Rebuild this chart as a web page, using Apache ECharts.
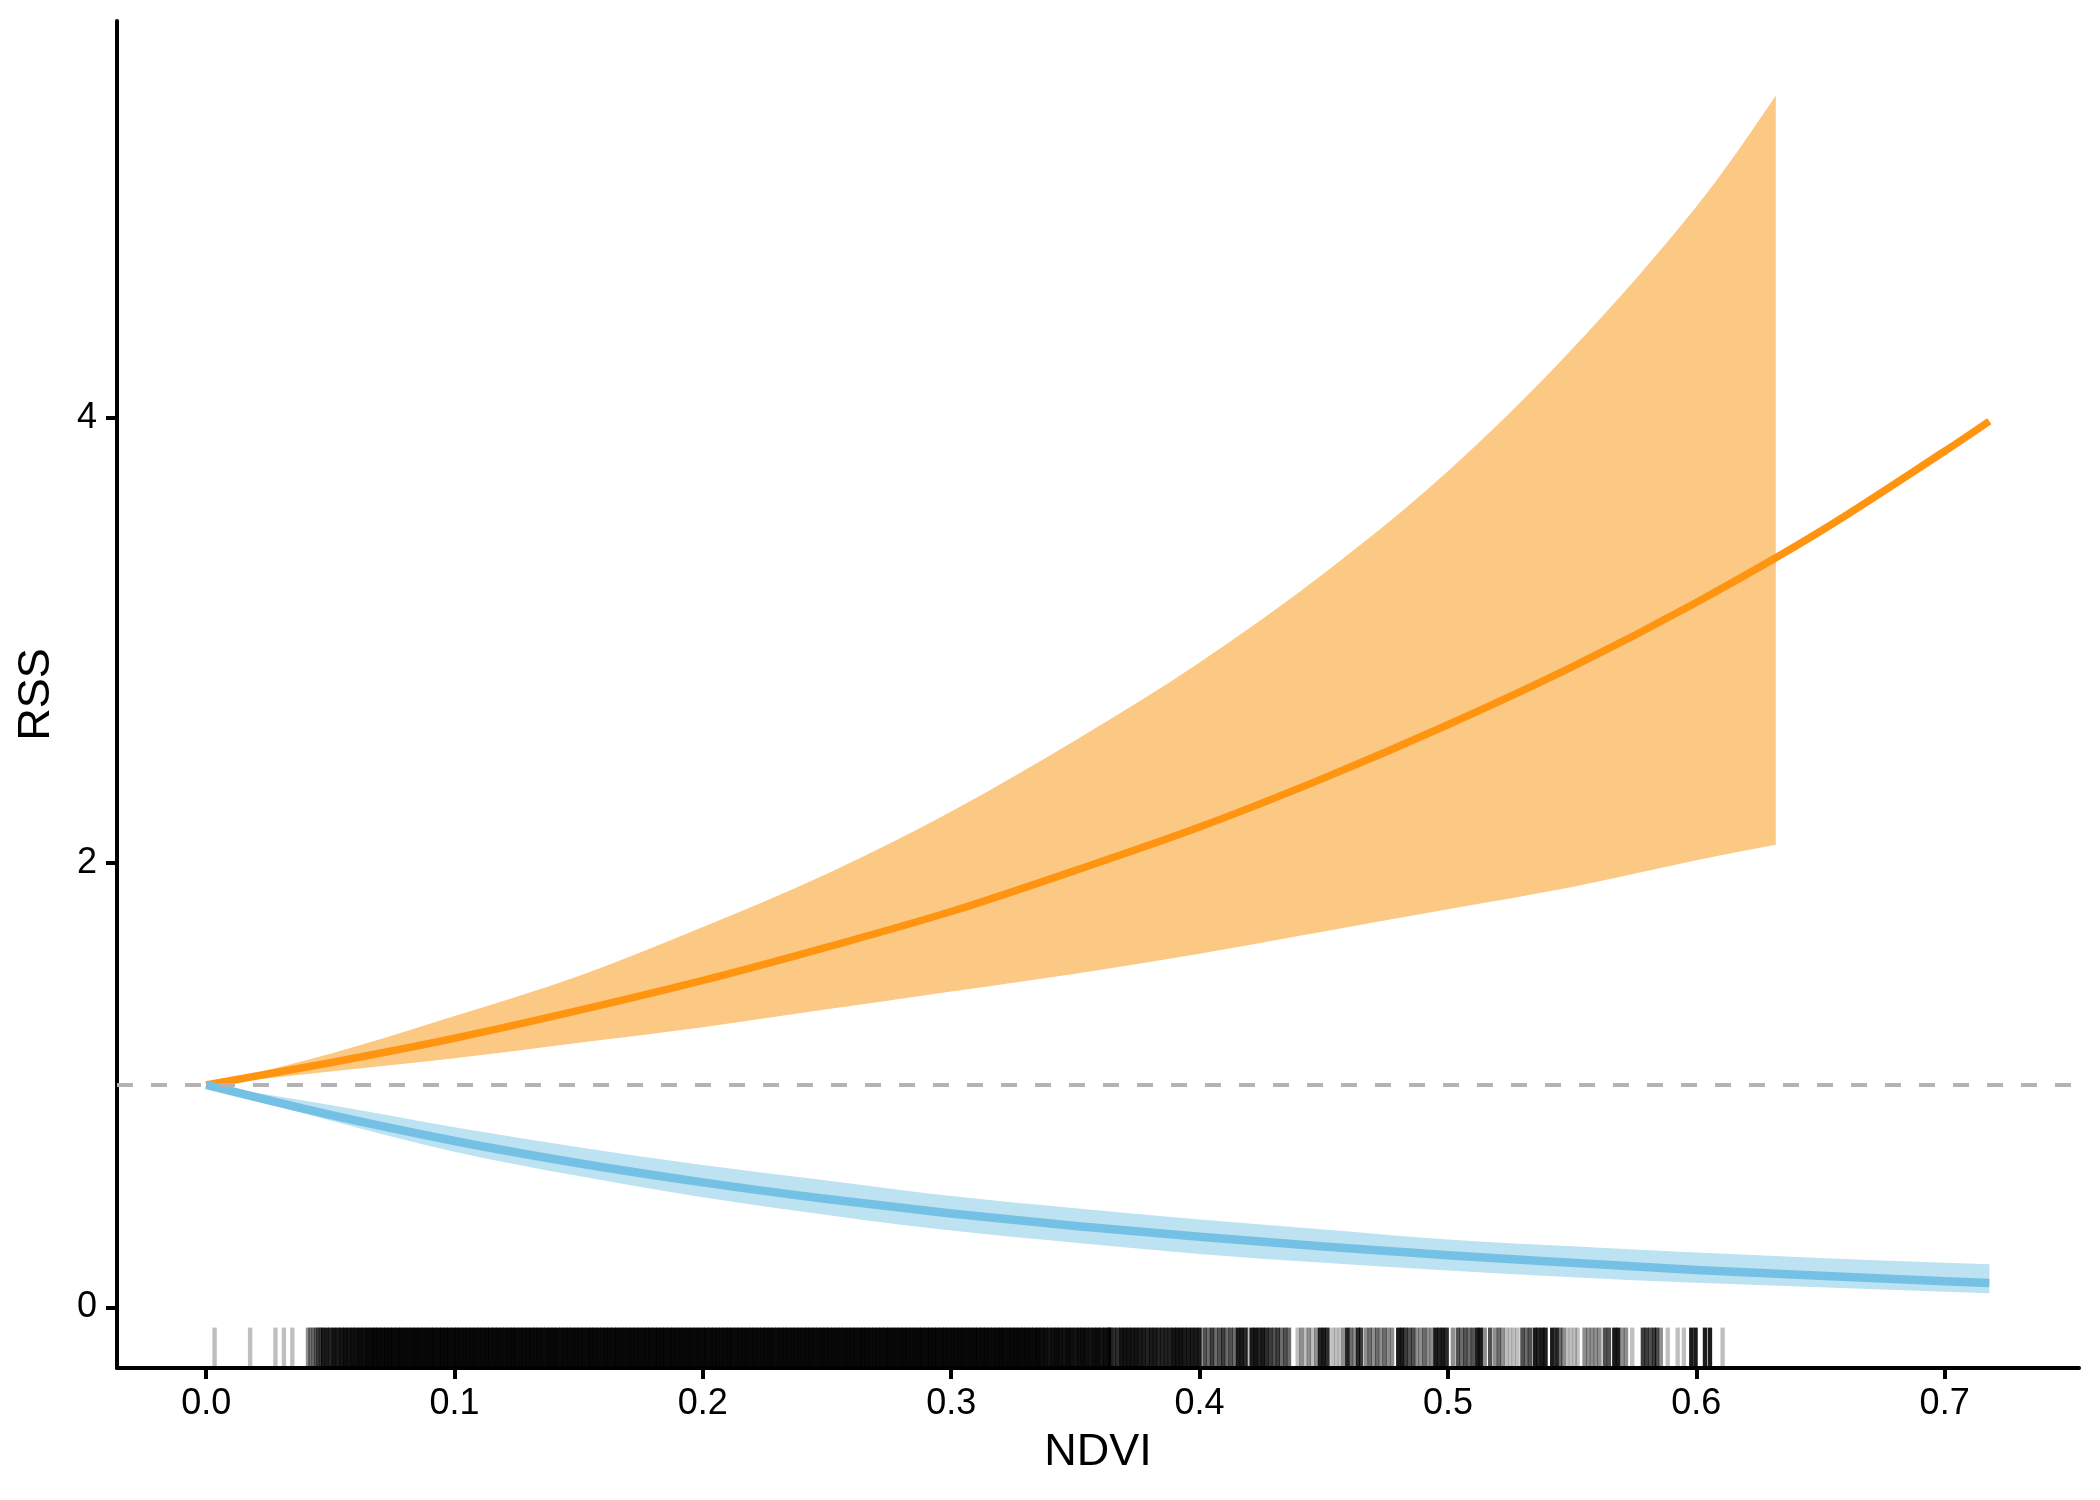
<!DOCTYPE html>
<html>
<head>
<meta charset="utf-8">
<script src="https://cdn.jsdelivr.net/npm/echarts@6/dist/echarts.min.js"></script>
<style>
html, body { margin: 0; padding: 0; background: #fff; }
#chart { width: 2100px; height: 1500px; }
</style>
</head>
<body>
<div id="chart"></div>
<script>
// fitted RSS curves
var ndviGrid  = [0, 0.05, 0.1, 0.15, 0.2, 0.25, 0.3, 0.35, 0.4, 0.45, 0.5, 0.55, 0.6, 0.65, 0.7, 0.718];
var orangeFit = [1.00, 1.10, 1.21, 1.335, 1.47, 1.62, 1.78, 1.965, 2.16, 2.38, 2.62, 2.88, 3.17, 3.49, 3.85, 3.985];
var blueFit   = [1.00, 0.865, 0.748, 0.648, 0.562, 0.487, 0.422, 0.366, 0.317, 0.273, 0.234, 0.200, 0.168, 0.142, 0.117, 0.109];
var blueUpper = [1.00, 0.91, 0.81, 0.72, 0.64, 0.57, 0.50, 0.445, 0.395, 0.35, 0.305, 0.274, 0.246, 0.222, 0.200, 0.194];
var blueLower = [1.00, 0.84, 0.70, 0.59, 0.495, 0.415, 0.345, 0.29, 0.24, 0.20, 0.165, 0.135, 0.110, 0.090, 0.070, 0.063];

// orange confidence band stops earlier
var ndviBand    = [0, 0.05, 0.1, 0.15, 0.2, 0.25, 0.3, 0.35, 0.4, 0.45, 0.5, 0.55, 0.6, 0.632];
var orangeUpper = [1.00, 1.14, 1.31, 1.49, 1.71, 1.95, 2.23, 2.55, 2.90, 3.30, 3.76, 4.31, 4.95, 5.45];
var orangeLower = [1.00, 1.06, 1.12, 1.19, 1.26, 1.34, 1.42, 1.50, 1.59, 1.69, 1.79, 1.89, 2.01, 2.08];

var refLevel = 1;
var xTicks = [0, 0.1, 0.2, 0.3, 0.4, 0.5, 0.6, 0.7];
var yTicks = [0, 2, 4];

// rug: [ndvi, number of overlapping observations]
var rugTicks = [
  [0.0034,1],[0.0177,1],[0.0279,1],[0.0313,1],[0.0347,1],
  [0.041,2],[0.042,2],[0.043,2],[0.0441,3],[0.045,3],[0.046,4],
  [0.047,7],[0.0485,8],[0.05,7],[0.0515,9],[0.053,8],[0.0545,9],[0.056,10],[0.0575,9],[0.059,10],[0.0605,10],
  [0.062,11],[0.0635,10],[0.065,12],[0.0665,12],[0.068,12],[0.0695,12],[0.071,12],[0.0725,12],[0.074,12],[0.0755,12],
  [0.077,12],[0.0785,12],[0.08,12],[0.0815,12],[0.083,12],[0.0845,12],[0.086,12],[0.0875,12],[0.089,12],[0.0905,12],
  [0.092,12],[0.0935,12],[0.095,12],[0.0965,12],[0.098,12],[0.0995,12],[0.101,12],[0.1025,12],[0.104,12],[0.1055,12],
  [0.107,12],[0.1085,12],[0.11,12],[0.1115,12],[0.113,12],[0.1145,12],[0.116,12],[0.1175,12],[0.119,12],[0.1205,12],
  [0.122,12],[0.1235,12],[0.125,12],[0.1265,12],[0.128,12],[0.1295,12],[0.131,12],[0.1325,12],[0.134,12],[0.1355,12],
  [0.137,12],[0.1385,12],[0.14,12],[0.1415,12],[0.143,12],[0.1445,12],[0.146,12],[0.1475,12],[0.149,12],[0.1505,12],
  [0.152,12],[0.1535,12],[0.155,12],[0.1565,12],[0.158,12],[0.1595,12],[0.161,12],[0.1625,12],[0.164,12],[0.1655,12],
  [0.167,12],[0.1685,12],[0.17,12],[0.1715,12],[0.173,12],[0.1745,12],[0.176,12],[0.1775,12],[0.179,12],[0.1805,12],
  [0.182,12],[0.1835,12],[0.185,12],[0.1865,12],[0.188,12],[0.1895,12],[0.191,12],[0.1925,12],[0.194,12],[0.1955,12],
  [0.197,12],[0.1985,12],[0.2,12],[0.2015,12],[0.203,12],[0.2045,12],[0.206,12],[0.2075,12],[0.209,12],[0.2105,12],
  [0.212,12],[0.2135,12],[0.215,12],[0.2165,12],[0.218,12],[0.2195,12],[0.221,12],[0.2225,12],[0.224,12],[0.2255,12],
  [0.227,12],[0.2285,12],[0.23,12],[0.2315,12],[0.233,12],[0.2345,12],[0.236,12],[0.2375,12],[0.239,12],[0.2405,12],
  [0.242,12],[0.2435,12],[0.245,12],[0.2465,12],[0.248,12],[0.2495,12],[0.251,12],[0.2525,12],[0.254,12],[0.2555,12],
  [0.257,12],[0.2585,12],[0.26,12],[0.2615,12],[0.263,12],[0.2645,12],[0.266,12],[0.2675,12],[0.269,12],[0.2705,12],
  [0.272,12],[0.2735,12],[0.275,12],[0.2765,12],[0.278,12],[0.2795,12],[0.281,12],[0.2825,12],[0.284,12],[0.2855,12],
  [0.287,12],[0.2885,12],[0.29,12],[0.2915,12],[0.293,12],[0.2945,12],[0.296,12],[0.2975,12],[0.299,12],[0.3005,12],
  [0.302,12],[0.3035,12],[0.305,12],[0.3065,12],[0.308,12],[0.3095,12],[0.311,12],[0.3125,12],[0.314,12],[0.3155,12],
  [0.317,12],[0.3185,12],[0.32,12],[0.3215,12],[0.323,12],[0.3245,12],[0.326,12],[0.3275,12],[0.329,12],[0.3305,12],
  [0.332,12],[0.3335,12],[0.335,12],
  [0.3365,10],[0.338,11],[0.3395,9],[0.341,10],[0.3425,11],[0.344,10],[0.3455,9],[0.347,11],[0.3485,10],[0.35,9],
  [0.3515,10],[0.353,11],[0.3545,10],[0.356,9],[0.3575,10],[0.359,11],[0.3605,9],[0.362,10],[0.3635,9],
  [0.364,6],[0.3655,6],[0.367,6],
  [0.3685,9],[0.37,9],[0.3715,9],[0.373,9],[0.3745,9],
  [0.376,8],[0.3775,8],[0.379,7],[0.3805,8],[0.382,8],[0.3835,7],
  [0.385,7],[0.3865,7],[0.388,7],[0.3895,9],[0.391,9],[0.3925,9],[0.394,8],[0.3955,8],[0.397,8],[0.3985,8],[0.4,8],
  [0.402,4],[0.4035,3],[0.405,5],[0.4065,3],[0.408,4],[0.4095,5],[0.411,3],[0.4125,4],[0.414,3],
  [0.4155,8],[0.417,8],[0.4185,6],[0.4195,1],
  [0.421,8],[0.4225,9],[0.424,7],[0.4255,8],[0.427,6],[0.4285,5],
  [0.43,4],[0.4315,5],[0.433,3],[0.4345,4],[0.436,3],
  [0.4395,1],[0.441,2],[0.4425,1],[0.444,2],[0.4455,1],[0.447,2],
  [0.4485,7],[0.45,8],[0.4515,6],
  [0.4535,1],[0.455,1],[0.4565,1],[0.458,2],
  [0.4595,7],[0.461,3],[0.4625,2],[0.4638,6],[0.465,5],
  [0.467,2],[0.4685,3],[0.47,2],[0.4715,3],[0.473,2],[0.4745,3],[0.476,2],[0.4775,2],
  [0.48,8],[0.4815,8],
  [0.483,5],[0.4845,4],[0.486,4],
  [0.4875,2],[0.489,2],[0.4905,3],[0.492,2],[0.4935,2],
  [0.495,8],[0.4965,7],[0.498,8],[0.4995,6],
  [0.502,2],[0.504,4],[0.5055,3],[0.507,4],[0.5085,3],[0.51,4],
  [0.5118,8],[0.5132,8],[0.5148,2],[0.517,4],
  [0.519,2],[0.5205,3],[0.522,2],
  [0.5235,1],[0.525,1],[0.5265,1],[0.528,1],
  [0.53,4],[0.5315,3],[0.533,4],
  [0.535,8],[0.5365,7],[0.538,8],[0.5393,7],
  [0.542,8],[0.5437,7],[0.5452,3],[0.5465,2],
  [0.548,1],[0.5495,1],[0.551,1],[0.5522,1],
  [0.555,2],[0.5565,2],[0.558,2],[0.5595,2],[0.561,2],
  [0.5632,4],[0.5648,4],[0.567,8],[0.5685,8],
  [0.5702,2],[0.5717,2],[0.5742,1],
  [0.5785,5],[0.58,5],[0.5815,4],[0.583,5],[0.5842,4],
  [0.5857,2],[0.5885,1],[0.5925,1],[0.595,1],
  [0.598,8],[0.5997,8],
  [0.6035,8],[0.6055,8],
  [0.6106,1]
];

var xMin = -0.0359, xMax = 0.7541;
var yMin = -0.273, yMax = 5.785;
var font = '"Liberation Sans", Arial, sans-serif';

// smooth curve through pixel points: cubic Hermite with x-based slopes, as beziers
function curveThrough(ctx, p) {
  var n = p.length, m = [], s = [], i;
  for (i = 0; i < n - 1; i++) s[i] = (p[i + 1][1] - p[i][1]) / (p[i + 1][0] - p[i][0]);
  for (i = 1; i < n - 1; i++) m[i] = (p[i + 1][1] - p[i - 1][1]) / (p[i + 1][0] - p[i - 1][0]);
  m[0] = (3 * s[0] - m[1]) / 2;
  m[n - 1] = (3 * s[n - 2] - m[n - 2]) / 2;
  for (i = 0; i < n - 1; i++) {
    var h = p[i + 1][0] - p[i][0];
    ctx.bezierCurveTo(
      p[i][0] + h / 3, p[i][1] + m[i] * h / 3,
      p[i + 1][0] - h / 3, p[i + 1][1] - m[i + 1] * h / 3,
      p[i + 1][0], p[i + 1][1]);
  }
}

echarts.graphic.registerShape('band', echarts.graphic.extendShape({
  shape: { upper: [], lower: [] },
  buildPath: function (ctx, shape) {
    var up = shape.upper, lo = shape.lower.slice().reverse();
    if (!up.length) return;
    ctx.moveTo(up[0][0], up[0][1]);
    curveThrough(ctx, up);
    ctx.lineTo(lo[0][0], lo[0][1]);
    curveThrough(ctx, lo);
    ctx.closePath();
  }
}));

echarts.graphic.registerShape('fitCurve', echarts.graphic.extendShape({
  shape: { points: [] },
  buildPath: function (ctx, shape) {
    var p = shape.points;
    if (!p.length) return;
    ctx.moveTo(p[0][0], p[0][1]);
    curveThrough(ctx, p);
  }
}));

function bandSeries(xs, lo, hi, color) {
  return {
    type: 'custom', z: 2, silent: true,
    data: [[xs[0], lo[0]]],
    renderItem: function (params, api) {
      return {
        type: 'band',
        shape: {
          upper: xs.map(function (x, i) { return api.coord([x, hi[i]]); }),
          lower: xs.map(function (x, i) { return api.coord([x, lo[i]]); })
        },
        style: { fill: color, stroke: null }
      };
    }
  };
}

function fitSeries(name, xs, ys, color, width) {
  return {
    name: name, type: 'custom', z: 3, silent: true,
    data: [[xs[0], ys[0]]],
    renderItem: function (params, api) {
      return {
        type: 'fitCurve',
        shape: { points: xs.map(function (x, i) { return api.coord([x, ys[i]]); }) },
        style: { fill: null, stroke: color, lineWidth: width, lineCap: 'butt', lineJoin: 'round' }
      };
    }
  };
}

var chart = echarts.init(document.getElementById('chart'));

var option = {
  animation: false,
  backgroundColor: '#fff',
  grid: { left: 117, right: 21, top: 21, bottom: 132, containLabel: false, outerBoundsMode: 'none' },
  xAxis: {
    type: 'value', min: xMin, max: xMax,
    name: 'NDVI', nameLocation: 'middle', nameGap: 62,
    nameTextStyle: { fontSize: 45, color: '#000', fontFamily: font },
    axisLine: { onZero: false, lineStyle: { color: '#000', width: 4 } },
    axisTick: { customValues: xTicks, length: 11, lineStyle: { color: '#000', width: 4 } },
    axisLabel: {
      customValues: xTicks, fontSize: 36, color: '#000', fontFamily: font, margin: 18,
      formatter: function (v) { return v.toFixed(1); }
    },
    splitLine: { show: false }
  },
  yAxis: {
    type: 'value', min: yMin, max: yMax,
    name: 'RSS', nameLocation: 'middle', nameGap: 58,
    nameTextStyle: { fontSize: 45, color: '#000', fontFamily: font },
    axisLine: { onZero: false, lineStyle: { color: '#000', width: 4 } },
    axisTick: { customValues: yTicks, length: 11, lineStyle: { color: '#000', width: 4 } },
    axisLabel: { customValues: yTicks, fontSize: 36, color: '#000', fontFamily: font, margin: 20 },
    splitLine: { show: false }
  },
  series: [
    {
      name: 'reference', type: 'line', data: [], z: 1,
      markLine: {
        silent: true, symbol: 'none',
        label: { show: false },
        lineStyle: { color: '#b3b3b3', width: 4, type: [16, 18] },
        data: [{ yAxis: refLevel }]
      }
    },
    bandSeries(ndviBand, orangeLower, orangeUpper, '#fcc985'),
    bandSeries(ndviGrid, blueLower, blueUpper, '#bde2f2'),
    fitSeries('orangeFit', ndviGrid, orangeFit, '#ff9410', 7.5),
    fitSeries('blueFit', ndviGrid, blueFit, '#74c1e5', 8.5),
    {
      name: 'rug', type: 'custom', z: 4, silent: true,
      data: rugTicks,
      encode: { x: 0, y: 1 },
      renderItem: function (params, api) {
        var x = api.value(0);
        var p0 = api.coord([x, yMin]);
        var p1 = api.coord([x, yMin + 0.03 * (yMax - yMin)]);
        return {
          type: 'line',
          shape: { x1: p0[0], y1: p0[1], x2: p1[0], y2: p1[1] },
          style: { stroke: '#000', lineWidth: 4.4, opacity: 1 - Math.pow(0.75, api.value(1)) }
        };
      }
    }
  ]
};

chart.setOption(option);
</script>
</body>
</html>
